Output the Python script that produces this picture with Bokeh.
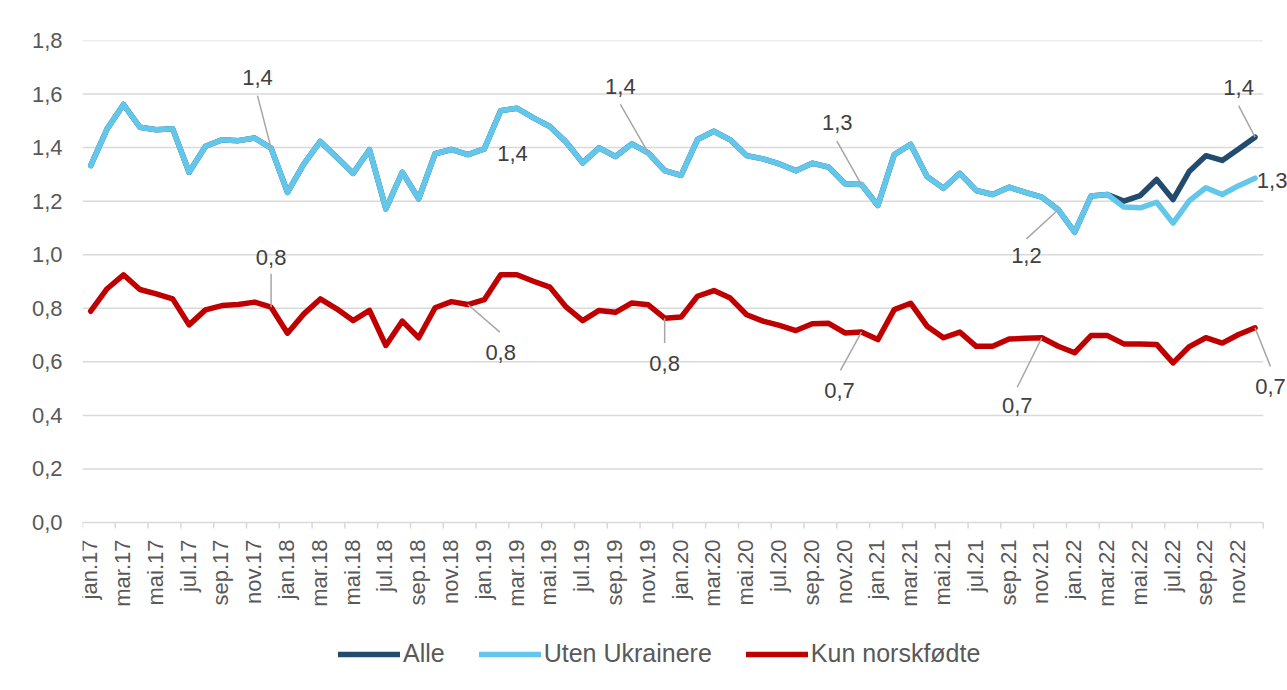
import math
from bokeh.plotting import figure
from bokeh.models import (FixedTicker, Legend, LegendItem, Label, LabelSet, Arrow, Range1d,
                          ColumnDataSource)
from bokeh.core.properties import value
from bokeh.embed import file_html
from bokeh.resources import INLINE

# ---------------- data ----------------
months = ["jan", "feb", "mar", "apr", "mai", "jun", "jul", "aug", "sep", "okt", "nov", "des"]
years = ["17", "18", "19", "20", "21", "22"]
month_labels = [f"{m}.{y}" for y in years for m in months]

uten_ukrainere = [
    1.333, 1.470, 1.561, 1.476, 1.467, 1.470, 1.308, 1.405, 1.429, 1.426, 1.436, 1.398,
    1.233, 1.339, 1.423, 1.364, 1.304, 1.392, 1.171, 1.308, 1.209, 1.377, 1.393, 1.374,
    1.395, 1.538, 1.547, 1.511, 1.479, 1.420, 1.343, 1.399, 1.367, 1.414, 1.380, 1.314,
    1.296, 1.430, 1.461, 1.429, 1.370, 1.358, 1.339, 1.314, 1.342, 1.327, 1.265, 1.262,
    1.184, 1.374, 1.412, 1.292, 1.248, 1.304, 1.240, 1.225, 1.252, 1.233, 1.215, 1.168,
    1.084, 1.219, 1.225, 1.178, 1.175, 1.196, 1.118, 1.202, 1.250, 1.225, 1.258, 1.286,
]
alle_2022_from_apr = [1.200, 1.221, 1.281, 1.206, 1.312, 1.370, 1.352, 1.395, 1.439]
alle = uten_ukrainere[:63] + alle_2022_from_apr
kun_norskfodte = [
    0.789, 0.873, 0.925, 0.870, 0.854, 0.835, 0.738, 0.794, 0.810, 0.814, 0.823, 0.804,
    0.707, 0.779, 0.835, 0.798, 0.754, 0.792, 0.661, 0.752, 0.690, 0.802, 0.825, 0.814,
    0.832, 0.925, 0.925, 0.901, 0.879, 0.804, 0.754, 0.792, 0.785, 0.820, 0.813, 0.763,
    0.767, 0.845, 0.866, 0.838, 0.776, 0.752, 0.736, 0.717, 0.742, 0.744, 0.708, 0.711,
    0.683, 0.795, 0.819, 0.733, 0.690, 0.711, 0.658, 0.658, 0.685, 0.688, 0.690, 0.658,
    0.634, 0.698, 0.698, 0.667, 0.667, 0.665, 0.596, 0.657, 0.690, 0.670, 0.702, 0.727,
]
y_ticks = [0.0, 0.2, 0.4, 0.6, 0.8, 1.0, 1.2, 1.4, 1.6, 1.8]
y_tick_labels = ["0,0", "0,2", "0,4", "0,6", "0,8", "1,0", "1,2", "1,4", "1,6", "1,8"]

n = len(month_labels)
x = list(range(n))

FONT = "Liberation Sans"
GRID = "#d9d9d9"
TXT = "#595959"

# The frame covers the whole area right of the y axis; the category axis and legend
# are drawn inside it so that nothing is clipped.
PX_PER_UNIT = 482 / 1.8          # plot height of the 0..1.8 band in pixels
y_bottom = -168 / PX_PER_UNIT    # room below 0 for month labels and legend
p = figure(width=1287, height=690, output_backend="svg", toolbar_location=None,
           x_range=Range1d(-0.5, n + 0.98), y_range=Range1d(y_bottom, 1.8),
           min_border_left=82, min_border_right=0, min_border_top=40, min_border_bottom=0)
p.outline_line_color = None
p.background_fill_color = "white"
p.border_fill_color = "white"
p.xaxis.visible = False
p.xgrid.visible = False
p.ygrid.visible = False

p.yaxis.ticker = FixedTicker(ticks=y_ticks)
p.yaxis.major_label_overrides = dict(zip(y_ticks, y_tick_labels))
p.yaxis.axis_line_color = None
p.yaxis.major_tick_line_color = None
p.yaxis.minor_tick_line_color = None
p.yaxis.major_tick_out = 0
p.yaxis.major_tick_in = 0
p.yaxis.major_label_standoff = 20
p.yaxis.major_label_text_font = FONT
p.yaxis.major_label_text_font_size = "22px"
p.yaxis.major_label_text_color = TXT

# horizontal gridlines (the 0-line doubles as category axis line)
p.segment(x0=[-0.5] * len(y_ticks), x1=[n - 0.5] * len(y_ticks), y0=y_ticks, y1=y_ticks,
          line_color=GRID, line_width=1.5)
# category tick marks at every second month boundary
bounds = [i - 0.5 for i in range(0, n + 2, 2)]
tick_len = 6 / PX_PER_UNIT
p.segment(x0=bounds, x1=bounds, y0=[0] * len(bounds), y1=[-tick_len] * len(bounds),
          line_color=GRID, line_width=1.5)
# month labels (every second month), rotated
lab_src = ColumnDataSource(dict(x=x[::2], y=[0] * len(x[::2]), text=month_labels[::2]))
p.add_layout(LabelSet(x="x", y="y", text="text", source=lab_src, angle=math.pi / 2,
                      y_offset=-17, x_offset=-1, text_align="right", text_baseline="middle",
                      text_font=value(FONT), text_font_size=value("22px"),
                      text_color=value(TXT)))

# lines
kw = dict(line_width=5.5, line_join="round", line_cap="round")
r_alle = p.line(x, alle, line_color="#234b6e", **kw)
r_uten = p.line(x, uten_ukrainere, line_color="#62c7eb", **kw)
r_kun = p.line(x, kun_norskfodte, line_color="#c00000", **kw)


def fmt(v):
    return f"{v:.1f}".replace(".", ",")


# data labels: (series, index, label x, label y, leader start x, leader start y)
label_specs = [
    (uten_ukrainere, 11, 10.17, 1.662, 10.17, 1.594),
    (uten_ukrainere, 24, 25.72, 1.378, None, None),
    (uten_ukrainere, 34, 32.3, 1.628, 32.3, 1.561),
    (uten_ukrainere, 47, 45.52, 1.495, 45.5, 1.424),
    (uten_ukrainere, 59, 57.06, 0.997, 57.06, 1.059),
    (alle, 71, 70.0, 1.625, 70.0, 1.557),
    (uten_ukrainere, 71, 72.04, 1.277, None, None),
    (kun_norskfodte, 11, 11.0, 0.991, 11.0, 0.929),
    (kun_norskfodte, 23, 25.0, 0.636, 24.95, 0.711),
    (kun_norskfodte, 35, 35.0, 0.595, 35.0, 0.670),
    (kun_norskfodte, 47, 45.66, 0.493, 45.72, 0.568),
    (kun_norskfodte, 58, 56.5, 0.437, 56.5, 0.505),
    (kun_norskfodte, 71, 71.94, 0.508, 71.94, 0.583),
]
for series, i, lx, ly, sx, sy in label_specs:
    if sx is not None:
        p.add_layout(Arrow(end=None, x_start=sx, y_start=sy, x_end=x[i], y_end=series[i],
                           line_color="#a6a6a6", line_width=1.5))
    p.add_layout(Label(x=lx, y=ly, text=fmt(series[i]), text_align="center",
                       text_baseline="middle", text_font=FONT, text_font_size="22px",
                       text_color="#404040"))

legend = Legend(items=[LegendItem(label="Alle", renderers=[r_alle]),
                       LegendItem(label="Uten Ukrainere", renderers=[r_uten]),
                       LegendItem(label="Kun norskfødte", renderers=[r_kun])],
                orientation="horizontal", location=(256, 22),
                label_text_font=FONT, label_text_font_size="25px", label_text_color=TXT,
                glyph_width=62, glyph_height=28, label_standoff=3, spacing=34,
                padding=0, margin=0, border_line_color=None, background_fill_alpha=0)
p.add_layout(legend, "center")

open("out.html", "w").write(file_html(p, INLINE))
